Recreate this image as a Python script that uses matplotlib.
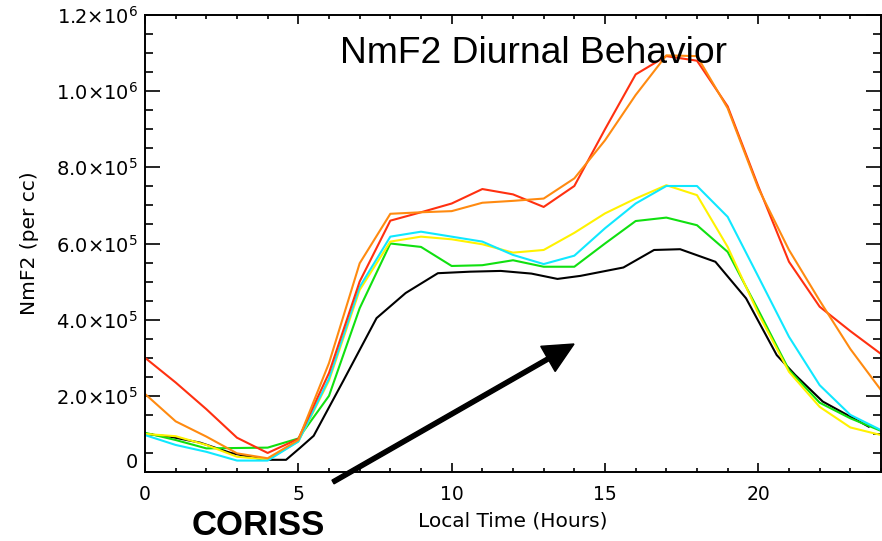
import numpy as np
import matplotlib
matplotlib.use("Agg")
import matplotlib.pyplot as plt
from matplotlib.ticker import MultipleLocator, FixedLocator, FuncFormatter
from matplotlib.patches import FancyArrow

# ---- data (NmF2 in units of 1e5 per cc) ----
hours = list(range(25))
red = [3.00, 2.35, 1.65, 0.90, 0.50, 0.87, 2.60, 5.00, 6.60, 6.82, 7.05, 7.43, 7.29, 6.96, 7.51,
       9.00, 10.44, 10.92, 10.80, 9.60, 7.50, 5.52, 4.34, 3.70, 3.10]
orange = [2.05, 1.33, 0.93, 0.49, 0.36, 0.84, 2.86, 5.48, 6.78, 6.82, 6.85, 7.07, 7.12, 7.18, 7.71,
          8.71, 9.90, 10.94, 10.92, 9.55, 7.45, 5.83, 4.50, 3.23, 2.15]
yellow = [1.00, 0.94, 0.71, 0.40, 0.33, 0.80, 2.40, 4.78, 6.05, 6.18, 6.11, 5.98, 5.76, 5.83, 6.28,
          6.79, 7.18, 7.53, 7.27, 5.91, 4.16, 2.63, 1.71, 1.17, 0.97]
cyan = [0.97, 0.71, 0.53, 0.30, 0.30, 0.80, 2.45, 4.86, 6.18, 6.31, 6.18, 6.05, 5.70, 5.46, 5.68,
        6.40, 7.05, 7.51, 7.51, 6.70, 5.13, 3.55, 2.28, 1.50, 1.10]
green = [1.03, 0.84, 0.62, 0.63, 0.64, 0.88, 2.00, 4.30, 6.00, 5.91, 5.41, 5.43, 5.56, 5.39, 5.39,
         6.00, 6.59, 6.68, 6.48, 5.78, 4.25, 2.68, 1.82, 1.41, 1.08]
black_hours = [0, 0.8, 1.8, 2.8, 3.9, 4.6, 5.05, 5.5, 6.47, 7.55, 8.5, 9.55, 10.6, 11.6, 12.6, 13.45,
               14.2, 15.6, 16.6, 17.45, 18.6, 19.6, 20.6, 21.2, 22.1, 23.6]
black = [1.00, 0.93, 0.77, 0.50, 0.32, 0.32, 0.63, 0.95, 2.40, 4.04, 4.70, 5.22, 5.26, 5.28, 5.21, 5.07,
         5.15, 5.37, 5.83, 5.85, 5.52, 4.56, 3.07, 2.55, 1.85, 1.19]
scale = 1e5

title = "NmF2 Diurnal Behavior"
xlabel = "Local Time (Hours)"
ylabel = "NmF2 (per cc)"
annot = "CORISS"

plt.rcParams["mathtext.fontset"] = "dejavusans"

W, H = 882, 541
fig = plt.figure(figsize=(W / 100, H / 100), dpi=100)
ax = fig.add_axes([145 / W, (H - 472) / H, (881 - 145) / W, (472 - 15) / H])

lw = 1.5
ax.plot(black_hours, np.array(black) * scale, color="black", lw=lw)
ax.plot(hours, np.array(green) * scale, color="#10E010", lw=lw)
ax.plot(hours, np.array(yellow) * scale, color="#FFF200", lw=lw)
ax.plot(hours, np.array(cyan) * scale, color="#10E8FF", lw=lw)
ax.plot(hours, np.array(red) * scale, color="#FF3010", lw=lw)
ax.plot(hours, np.array(orange) * scale, color="#FF8A10", lw=lw)

ax.set_xlim(0, 24)
ax.set_ylim(0, 1.2e6)
ax.xaxis.set_major_locator(FixedLocator([0, 5, 10, 15, 20]))
ax.xaxis.set_minor_locator(MultipleLocator(1))
ax.yaxis.set_major_locator(FixedLocator([0, 2e5, 4e5, 6e5, 8e5, 1.0e6, 1.2e6]))
ax.yaxis.set_minor_locator(MultipleLocator(5e4))


def yfmt(v, pos):
    if v <= 1:
        return "0"
    e = int(np.floor(np.log10(v) + 1e-9))
    m = v / 10 ** e
    return r"$%.1f{\times}10^{%d}$" % (m, e)


ax.yaxis.set_major_formatter(FuncFormatter(yfmt))
ax.xaxis.set_major_formatter(FuncFormatter(lambda v, p: "%d" % v))

for s in ax.spines.values():
    s.set_linewidth(1.4)
ax.tick_params(which="both", direction="in", top=True, right=True, width=1.2, colors="black")
ax.tick_params(axis="y", which="major", length=10.5, pad=5, labelsize=14)
ax.tick_params(axis="y", which="minor", length=5.5)
ax.tick_params(axis="x", which="major", length=6.5, pad=9, labelsize=13.5)
ax.tick_params(axis="x", which="minor", length=3.2)

ax.set_xlabel(xlabel, fontsize=14.5, labelpad=6)
ax.set_ylabel(ylabel, fontsize=14.5, labelpad=12)

fig.canvas.draw()
lab0 = ax.yaxis.get_major_ticks()[0].label1
lab0.set_va("bottom")

fig.text(340 / W, (H - 63) / H, title, fontsize=26.8, family="Liberation Sans",
         ha="left", va="baseline")
fig.text(192 / W, (H - 535) / H, annot, fontsize=25, family="Liberation Sans",
         fontweight="bold", ha="left", va="baseline")

tail = (3.33, (H - 482) / 100)
tip = (5.74, (H - 344) / 100)
arr = FancyArrow(tail[0], tail[1], tip[0] - tail[0], tip[1] - tail[1], width=0.042,
                 head_width=0.29, head_length=0.30, length_includes_head=True,
                 color="black", transform=fig.dpi_scale_trans, clip_on=False)
fig.add_artist(arr)

fig.savefig("out.png", dpi=100)
